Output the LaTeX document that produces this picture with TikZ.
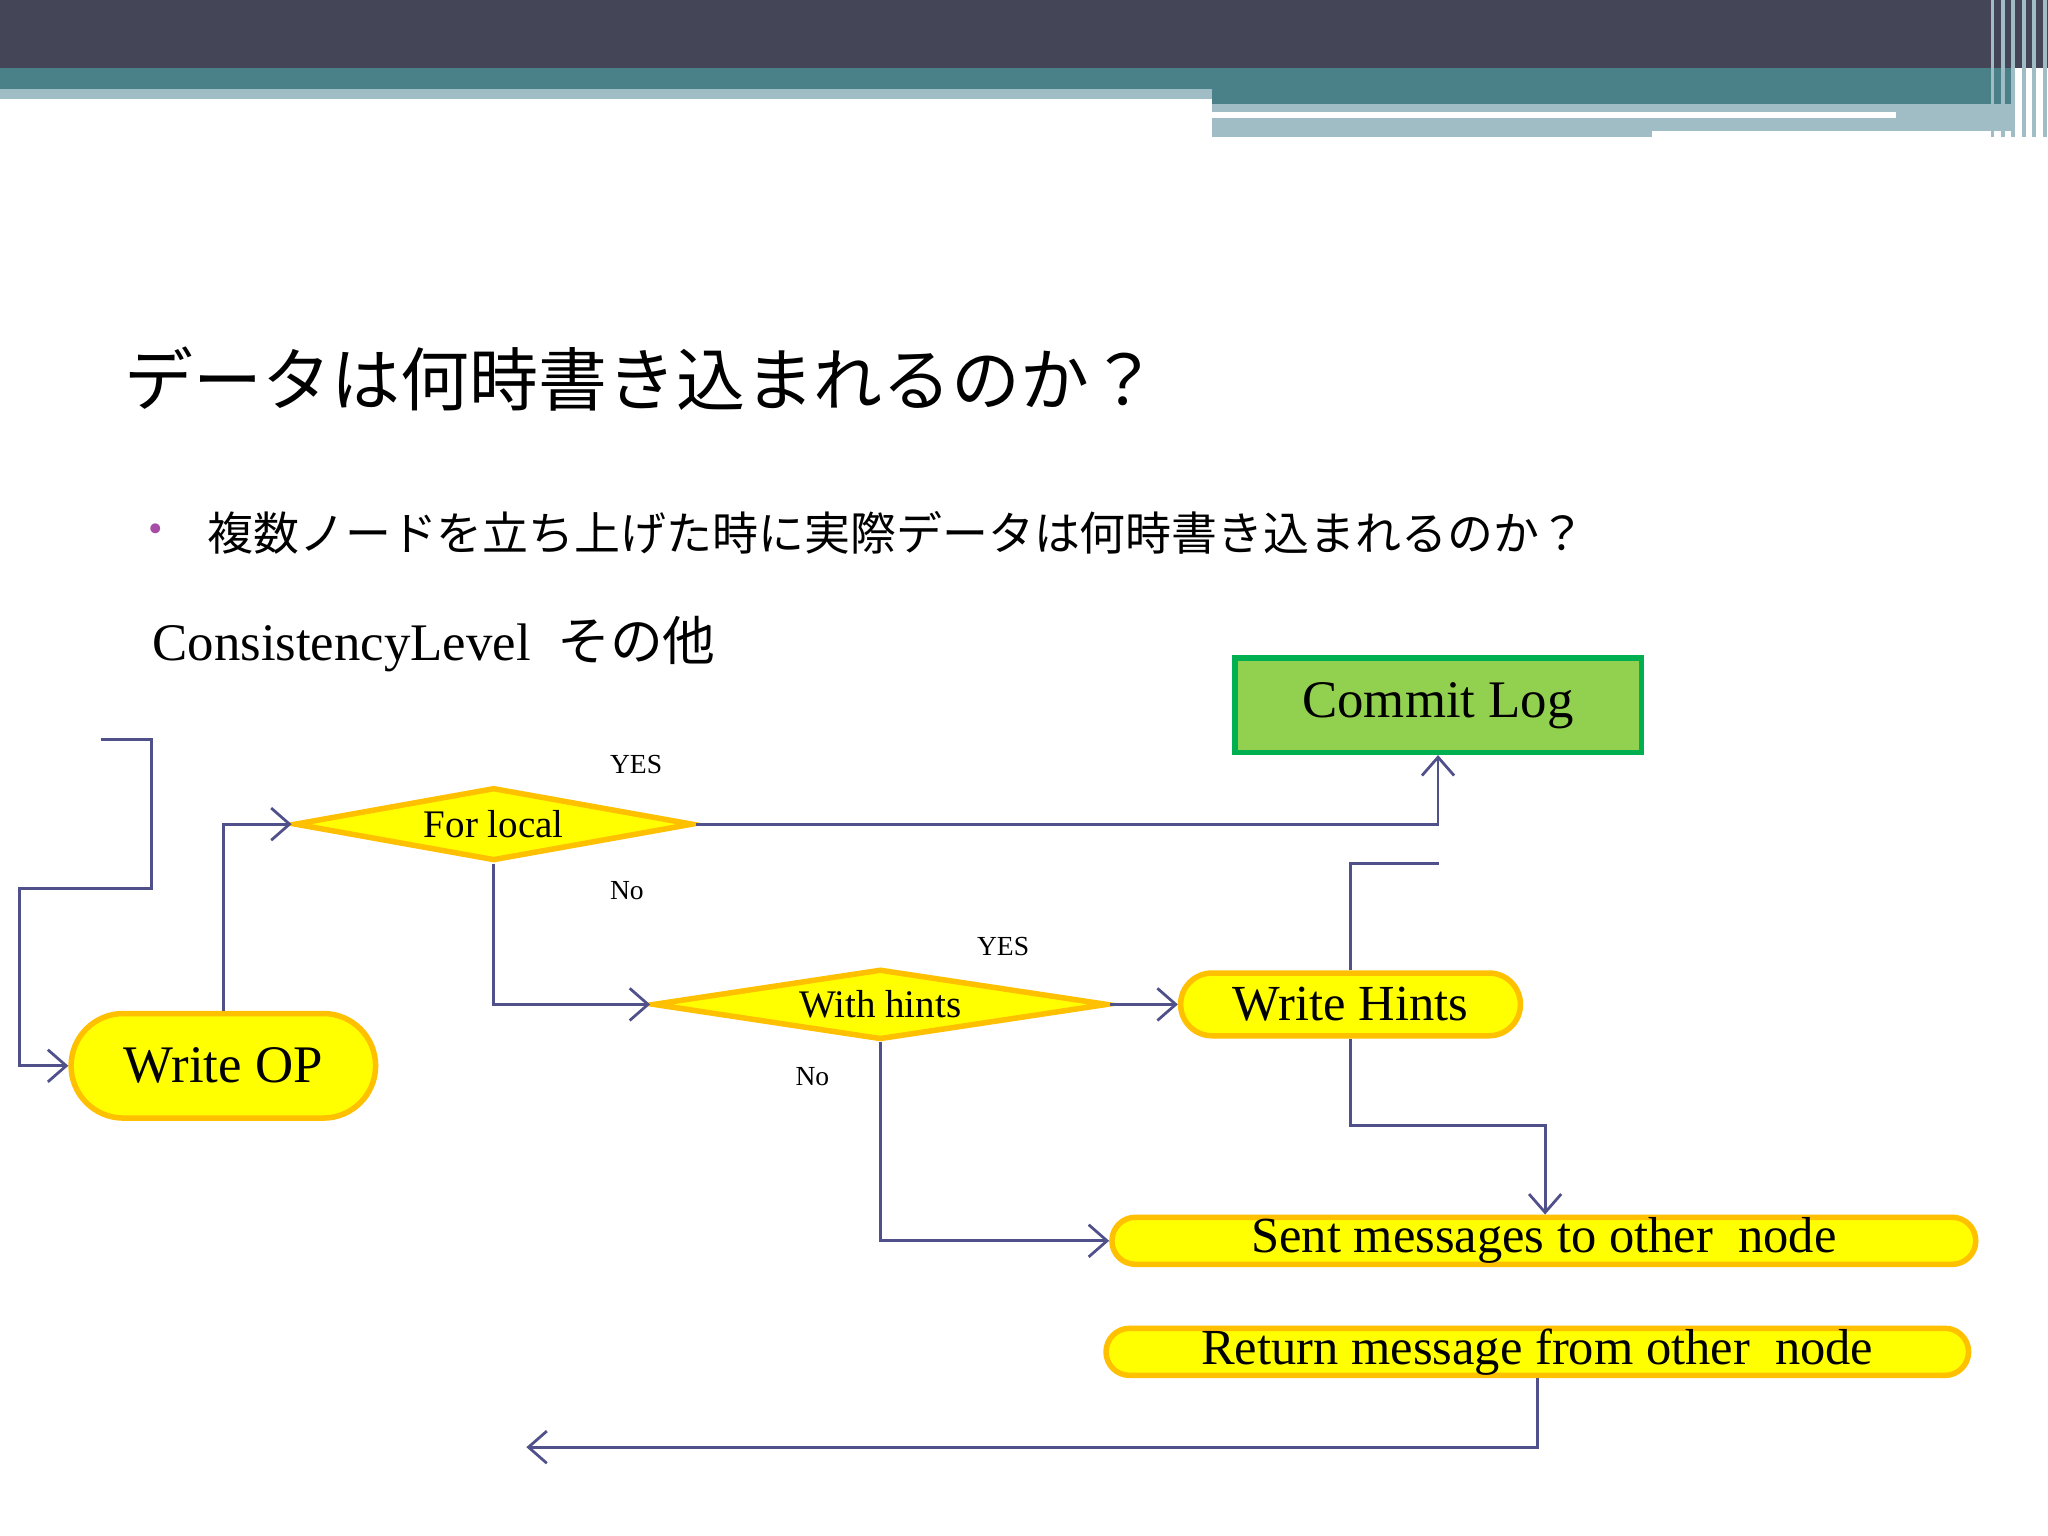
\documentclass[tikz,border=0pt]{standalone}
\usepackage{fontspec}
\setmainfont{Liberation Serif}
\newfontfamily\cjk{Noto Sans CJK JP}
\usetikzlibrary{shapes.geometric,arrows.meta}
\definecolor{hdark}{HTML}{454558}
\definecolor{hteal}{HTML}{4A8088}
\definecolor{hlight}{HTML}{A0BCC4}
\definecolor{ln}{HTML}{50508A}
\definecolor{yfill}{HTML}{FFFF00}
\definecolor{ybord}{HTML}{FFC000}
\definecolor{gfill}{HTML}{92D050}
\definecolor{gbord}{HTML}{00B050}
\begin{document}
\begin{tikzpicture}[x=0.01cm,y=-0.01cm,
  pill/.style={draw=ybord,fill=yfill,line width=1.2pt,rounded corners=#1,inner sep=0pt},
  dia/.style={diamond,aspect=5.5,draw=ybord,fill=yfill,line width=1.2pt,inner sep=0pt},
  con/.style={draw=ln,line width=0.6pt},
  arr/.style={con,-{Straight Barb[length=4pt,width=7pt]}},
  lab/.style={font=\fontsize{6}{7}\selectfont}]
\useasboundingbox (0,0) rectangle (1568,1176);
\fill[white] (0,0) rectangle (1568,1176);
% header
\fill[hdark] (0,0) rectangle (1568,52);
\fill[hteal] (0,52) rectangle (1540,68);
\fill[hlight] (0,68) rectangle (928,76);
\fill[hteal] (928,68) rectangle (1540,80);
\fill[hlight] (928,80) rectangle (1540,100);
\fill[white] (928,86) rectangle (1452,90);
\fill[hlight] (928,100) rectangle (1265,105);
\foreach \x in {1524,1532,1540,1548,1556,1564}{\fill[hlight] (\x,0) rectangle ++(3,105);}
% texts
\node[anchor=west,inner sep=0pt,font=\cjk\fontsize{15}{17}\selectfont] (title) at (95,290) {データは何時書き込まれるのか？};
\node[anchor=west,inner sep=0pt,font=\fontsize{9}{10}\selectfont,text=violet!70] (bul) at (113,408) {•};
\node[anchor=west,inner sep=0pt,font=\cjk\fontsize{10}{12}\selectfont] (btxt) at (158,408) {複数ノードを立ち上げた時に実際データは何時書き込まれるのか？};
\node[anchor=west,inner sep=0pt,font=\fontsize{11.5}{13}\selectfont] (cl) at (116,493) {ConsistencyLevel\ \ {\cjk その他}};
% nodes
\node[draw=gbord,fill=gfill,line width=1.2pt,minimum width=311\pgflinewidth,inner sep=0pt,
  minimum width=3.11cm,minimum height=0.72cm,font=\fontsize{11.5}{13}\selectfont] (commit) at (1101,540) {Commit Log};
\node[dia,minimum width=3.05cm,minimum height=0.56cm,font=\fontsize{8.5}{10}\selectfont] (forlocal) at (378,631) {For local};
\node[dia,minimum width=3.48cm,minimum height=0.54cm,font=\fontsize{8.5}{10}\selectfont] (withhints) at (674,769) {With hints};
\node[pill=0.4cm,minimum width=2.33cm,minimum height=0.80cm,font=\fontsize{11.5}{13}\selectfont] (writeop) at (171,816) {Write OP};
\node[pill=0.24cm,minimum width=2.60cm,minimum height=0.48cm,font=\fontsize{11}{13}\selectfont] (writehints) at (1034,769) {Write Hints};
\node[pill=0.18cm,minimum width=6.61cm,minimum height=0.36cm,font=\fontsize{11}{13}\selectfont] (sent) at (1182,950) {Sent messages to other\ \ node};
\node[pill=0.18cm,minimum width=6.60cm,minimum height=0.36cm,font=\fontsize{11}{13}\selectfont] (ret) at (1177,1035) {Return message from other\ \ node};
\coordinate (s0) at (77,566);
\coordinate (e0) at (403,1108);
% connectors
\draw[arr] (s0) -- (116,566) -- (116,680) -- (15,680) -- (15,816) -- (writeop.west);
\draw[arr] (writeop.north) |- (forlocal.west);
\draw[arr] (forlocal.east) -| (commit.south);
\draw[con] (writehints.north) |- (1102,661);
\draw[arr] (forlocal.south) |- (withhints.west);
\draw[arr] (withhints.east) -- (writehints.west);
\draw[arr] (writehints.south) -- (1034,862) -| (sent.north -| 1183,0);
\draw[arr] (withhints.south) |- (sent.west);
\draw[arr] (ret.south) |- (e0);
% labels
\node[lab] (y1) at (487,585) {YES};
\node[lab] (n1) at (480,682) {No};
\node[lab] (y2) at (768,725) {YES};
\node[lab] (n2) at (622,824) {No};
\end{tikzpicture}
\end{document}
